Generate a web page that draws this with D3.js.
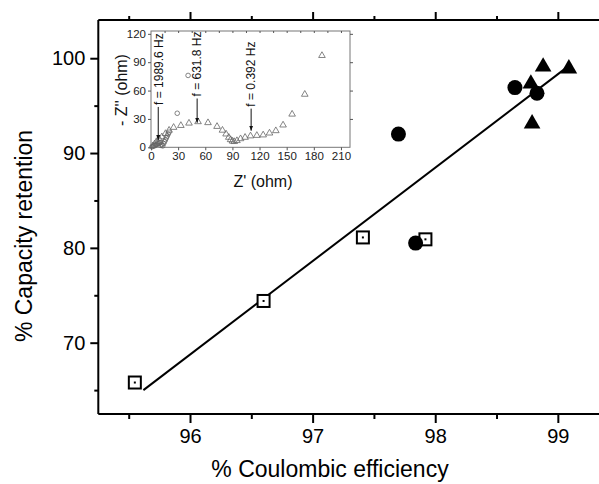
<!DOCTYPE html>
<html>
<head>
<meta charset="utf-8">
<script src="https://cdn.jsdelivr.net/npm/d3@7"></script>
<style>
  body { margin: 0; background: #fff; }
  svg { display: block; font-family: "Liberation Sans", Arial, sans-serif; }
</style>
</head>
<body>
<svg id="chart" width="599" height="484"></svg>
<script>
// ---- Main panel: capacity retention vs coulombic efficiency ----
const squareCE = [95.55, 96.60, 97.41, 97.92];
const squareCR = [65.8, 74.4, 81.1, 80.9];
const circleCE = [97.70, 97.84, 98.65, 98.83];
const circleCR = [92.0, 80.5, 96.9, 96.3];
const triangleCE = [98.78, 98.88, 99.09, 98.79];
const triangleCR = [97.3, 99.1, 98.9, 93.1];
const fitCE = [95.62, 99.10];
const fitCR = [65.0, 99.3];
const xMajorTicks = [96, 97, 98, 99];
const xMinorTicks = [95.5, 96.5, 97.5, 98.5, 99.5];
const yMajorTicks = [70, 80, 90, 100];
const yMinorTicks = [65, 75, 85, 95];

// ---- Inset: Nyquist plot ----
const triZre = [2, 4, 6, 9, 12, 16, 20, 25, 33, 42, 52, 63, 73, 79, 83, 86, 88, 90, 92, 95, 99, 104, 110, 117, 124, 131, 138, 146, 156, 170, 189];
const triZim = [1.5, 3.5, 6, 9, 11, 14.5, 18, 21, 23, 25.5, 27, 26, 22, 18, 14, 10.5, 8, 6.5, 6, 7, 9, 10.5, 12, 12.5, 13, 15, 17.5, 23.5, 35, 56, 97];
const cirZre = [1, 2, 3, 4, 5, 6, 7, 8, 9, 10, 11, 12, 13, 14, 15, 16, 17, 18, 19, 20, 29, 41];
const cirZim = [0.5, 1, 1.5, 2, 2.5, 3, 3.5, 4, 4.5, 5, 2, 3, 1.5, 4, 6, 8, 10, 12, 14, 16, 36, 76];
const freqLabels = ["f = 1989.6 Hz", "f = 631.8 Hz", "f = 0.392 Hz"];
const freqZre = [8, 51, 110.7];
const freqTip = [7.7, 26, 17.6];
const freqTail = [44.8, 53.7, 43];
const insetXTicks = [0, 30, 60, 90, 120, 150, 180, 210];
const insetYTicks = [0, 30, 60, 90, 120];

const svg = d3.select("#chart");

const x = d3.scaleLinear().domain([95.252, 99.6]).range([98.3, 631.4]);
const y = d3.scaleLinear().domain([62.48, 104.03]).range([414, 20]);

// frame (right side runs past the visible area)
const frame = svg.append("g").attr("stroke", "#000").attr("stroke-width", 2).attr("fill", "none");
frame.append("line").attr("x1", x.range()[0]).attr("x2", x.range()[1]).attr("y1", y.range()[0]).attr("y2", y.range()[0]);
frame.append("line").attr("x1", x.range()[0]).attr("x2", x.range()[1]).attr("y1", y.range()[1]).attr("y2", y.range()[1]);
frame.append("line").attr("x1", x.range()[0]).attr("x2", x.range()[0]).attr("y1", y.range()[0]).attr("y2", y.range()[1]);

function styleAxis(g, size) {
  g.select(".domain").remove();
  g.selectAll(".tick line").attr("stroke", "#000").attr("stroke-width", 2);
  g.selectAll(".tick text").attr("font-size", size).attr("fill", "#000").attr("font-family", "Liberation Sans, Arial, sans-serif");
}

// bottom axis
svg.append("g").attr("transform", `translate(0,${y.range()[0]})`)
  .call(d3.axisBottom(x).tickValues(xMajorTicks).tickFormat(d3.format("d")).tickSize(9).tickPadding(6))
  .call(g => styleAxis(g, 20));
svg.append("g").attr("transform", `translate(0,${y.range()[0]})`)
  .call(d3.axisBottom(x).tickValues(xMinorTicks).tickFormat("").tickSize(5))
  .call(g => styleAxis(g, 20));
// top axis (ticks only)
svg.append("g").attr("transform", `translate(0,${y.range()[1]})`)
  .call(d3.axisTop(x).tickValues(xMajorTicks).tickFormat("").tickSize(8))
  .call(g => styleAxis(g, 20));
svg.append("g").attr("transform", `translate(0,${y.range()[1]})`)
  .call(d3.axisTop(x).tickValues(xMinorTicks).tickFormat("").tickSize(4))
  .call(g => styleAxis(g, 20));
// left axis
svg.append("g").attr("transform", `translate(${x.range()[0]},0)`)
  .call(d3.axisLeft(y).tickValues(yMajorTicks).tickFormat(d3.format("d")).tickSize(8).tickPadding(5))
  .call(g => styleAxis(g, 20));
svg.append("g").attr("transform", `translate(${x.range()[0]},0)`)
  .call(d3.axisLeft(y).tickValues(yMinorTicks).tickFormat("").tickSize(4))
  .call(g => styleAxis(g, 20));

// axis titles
svg.append("text").attr("x", 330).attr("y", 477).attr("text-anchor", "middle")
  .attr("font-size", 23).text("% Coulombic efficiency");
svg.append("text").attr("transform", "translate(32,236) rotate(-90)").attr("text-anchor", "middle")
  .attr("font-size", 23).text("% Capacity retention");

// linear fit
svg.append("path")
  .datum(d3.zip(fitCE, fitCR))
  .attr("d", d3.line().x(d => x(d[0])).y(d => y(d[1])))
  .attr("fill", "none").attr("stroke", "#000").attr("stroke-width", 2);

// open squares with centre dot
const sq = svg.append("g").selectAll("g").data(d3.zip(squareCE, squareCR)).join("g")
  .attr("transform", d => `translate(${x(d[0])},${y(d[1])})`);
sq.append("rect").attr("x", -6).attr("y", -6).attr("width", 12).attr("height", 12)
  .attr("fill", "#fff").attr("stroke", "#000").attr("stroke-width", 2);
sq.append("rect").attr("x", -1).attr("y", -1).attr("width", 2).attr("height", 2).attr("fill", "#000");

// filled circles
svg.append("g").selectAll("circle").data(d3.zip(circleCE, circleCR)).join("circle")
  .attr("cx", d => x(d[0])).attr("cy", d => y(d[1])).attr("r", 7.5).attr("fill", "#000");

// filled triangles
svg.append("g").selectAll("path").data(d3.zip(triangleCE, triangleCR)).join("path")
  .attr("transform", d => `translate(${x(d[0])},${y(d[1])})`)
  .attr("d", d3.symbol().type(d3.symbolTriangle).size(120))
  .attr("fill", "#000");

// ---- inset ----
const xi = d3.scaleLinear().domain([0, 220]).range([151, 350]);
const yi = d3.scaleLinear().domain([0, 123]).range([147.3, 31]);
const inset = svg.append("g");
inset.append("rect").attr("x", 151).attr("y", 31).attr("width", 199).attr("height", 116.3)
  .attr("fill", "#fff").attr("stroke", "#777").attr("stroke-width", 1);

function styleInset(g) {
  g.select(".domain").remove();
  g.selectAll(".tick line").attr("stroke", "#555").attr("stroke-width", 1);
  g.selectAll(".tick text").attr("font-size", 11.5).attr("fill", "#222");
}
inset.append("g").attr("transform", "translate(0,147.3)")
  .call(d3.axisBottom(xi).tickValues(insetXTicks).tickFormat(d3.format("d")).tickSize(3).tickPadding(2))
  .call(styleInset);
inset.append("g").attr("transform", "translate(151,0)")
  .call(d3.axisLeft(yi).tickValues(insetYTicks).tickFormat(d3.format("d")).tickSize(3).tickPadding(2))
  .call(styleInset);
inset.append("g").attr("transform", "translate(0,31)")
  .call(d3.axisBottom(xi).tickValues(d3.range(15, 220, 15)).tickFormat("").tickSize(2))
  .call(styleInset);
inset.append("g").attr("transform", "translate(350,0)")
  .call(d3.axisRight(yi).tickValues(insetYTicks.slice(1)).tickFormat("").tickSize(3))
  .call(styleInset);

inset.append("text").attr("x", 263).attr("y", 187).attr("text-anchor", "middle")
  .attr("font-size", 16).attr("fill", "#111").text("Z' (ohm)");
inset.append("text").attr("transform", "translate(127,90) rotate(-90)").attr("text-anchor", "middle")
  .attr("font-size", 16).attr("fill", "#111").text("- Z'' (ohm)");

// Nyquist markers
inset.append("g").selectAll("circle").data(d3.zip(cirZre, cirZim)).join("circle")
  .attr("cx", d => xi(d[0])).attr("cy", d => yi(d[1])).attr("r", 2.3)
  .attr("fill", "none").attr("stroke", "#666").attr("stroke-width", 0.8);
inset.append("g").selectAll("path").data(d3.zip(triZre, triZim)).join("path")
  .attr("transform", d => `translate(${xi(d[0])},${yi(d[1])})`)
  .attr("d", d3.symbol().type(d3.symbolTriangle).size(19))
  .attr("fill", "none").attr("stroke", "#666").attr("stroke-width", 0.8);

// frequency markers
const defs = svg.append("defs");
defs.append("marker").attr("id", "arrowhead").attr("viewBox", "0 0 10 10")
  .attr("refX", 10).attr("refY", 5).attr("markerWidth", 5).attr("markerHeight", 5)
  .attr("orient", "auto")
  .append("path").attr("d", "M0,1 L10,5 L0,9 Z").attr("fill", "#111");
freqLabels.forEach((label, i) => {
  const px = xi(freqZre[i]);
  inset.append("line").attr("x1", px).attr("x2", px)
    .attr("y1", yi(freqTail[i]) + 2).attr("y2", yi(freqTip[i]))
    .attr("stroke", "#111").attr("stroke-width", 1).attr("marker-end", "url(#arrowhead)");
  inset.append("text")
    .attr("transform", `translate(${px + 4.3},${yi(freqTail[i])}) rotate(-90)`)
    .attr("font-size", 12).attr("fill", "#111").text(label);
});
</script>
</body>
</html>
